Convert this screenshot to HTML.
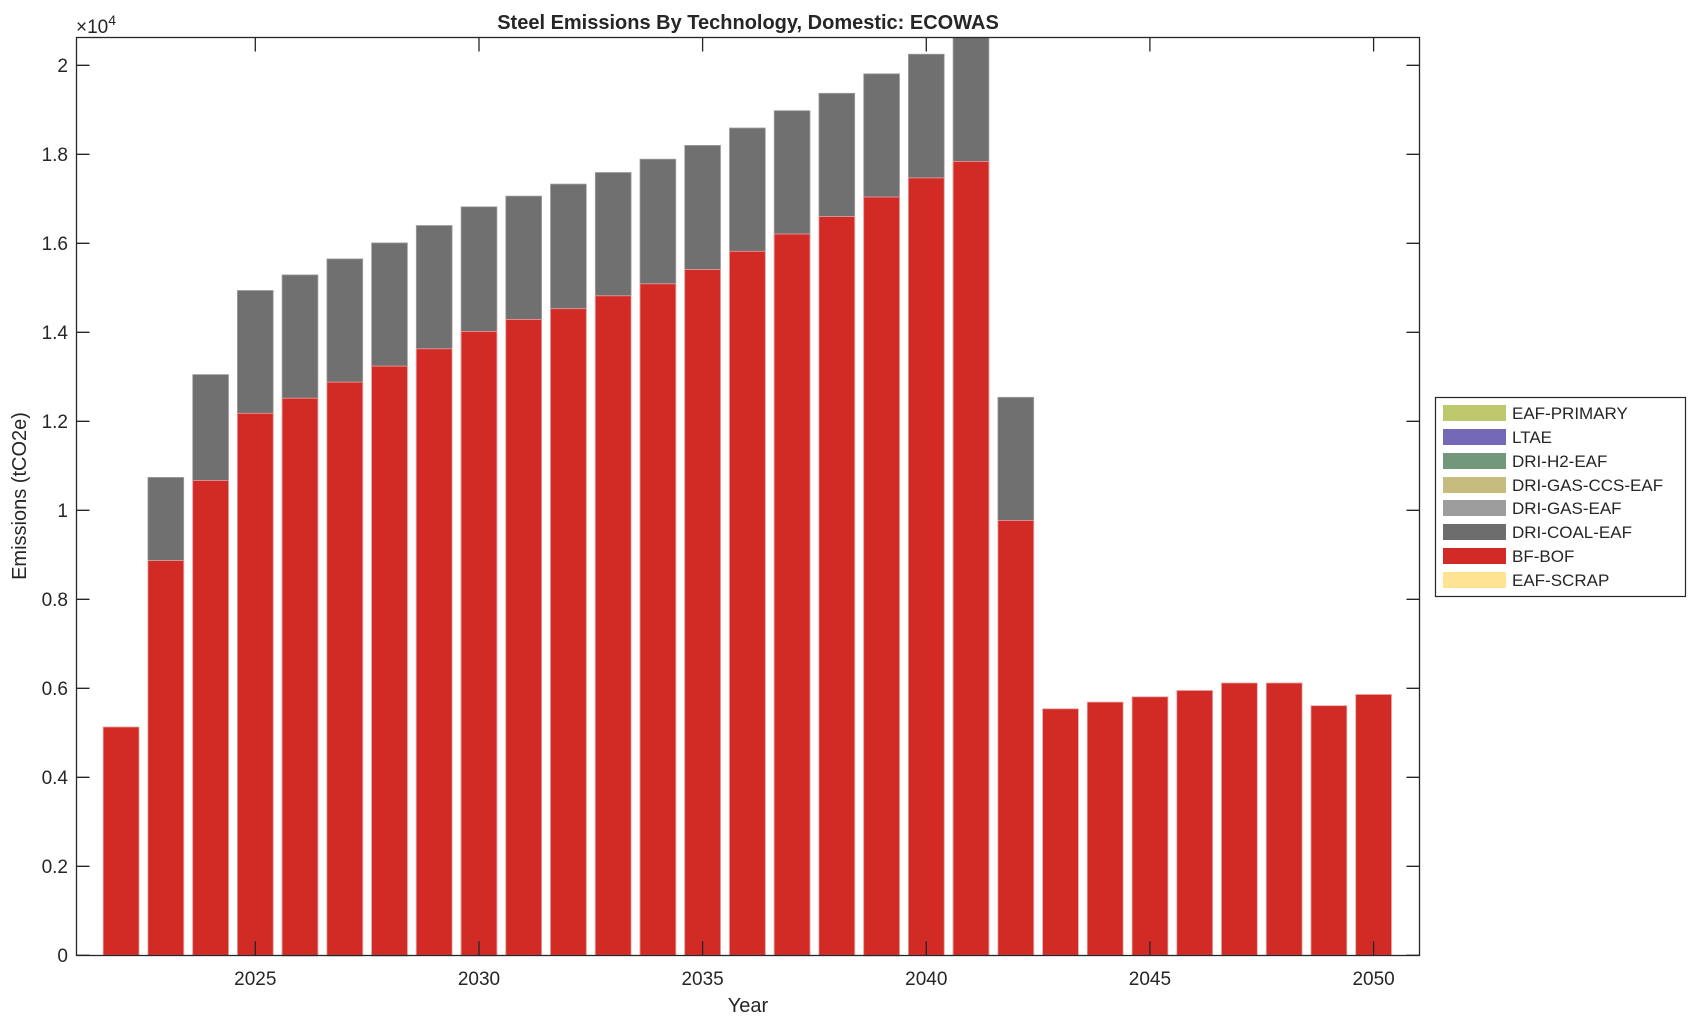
<!DOCTYPE html>
<html><head><style>body{margin:0;background:#fff}svg{display:block}text{font-family:"Liberation Sans",Arial,sans-serif;fill:#262626}</style></head>
<body>
<svg width="1696" height="1023" viewBox="0 0 1696 1023" xmlns="http://www.w3.org/2000/svg">
<rect width="1696" height="1023" fill="#fff"/>
<rect x="76.5" y="37.5" width="1343" height="918" fill="#fff"/>
<g fill="#707070" stroke="#a0a0a0" stroke-width="0.8">
<rect x="147.9" y="477.4" width="35.8" height="478"/>
<rect x="192.7" y="374.6" width="35.8" height="581"/>
<rect x="237.4" y="290.5" width="35.8" height="665"/>
<rect x="282.1" y="274.9" width="35.8" height="681"/>
<rect x="326.9" y="258.9" width="35.8" height="697"/>
<rect x="371.6" y="242.9" width="35.8" height="713"/>
<rect x="416.3" y="225.5" width="35.8" height="730"/>
<rect x="461.1" y="206.8" width="35.8" height="749"/>
<rect x="505.8" y="196.1" width="35.8" height="759"/>
<rect x="550.5" y="184.1" width="35.8" height="771"/>
<rect x="595.3" y="172.5" width="35.8" height="783"/>
<rect x="640.0" y="159.2" width="35.8" height="796"/>
<rect x="684.7" y="145.4" width="35.8" height="810"/>
<rect x="729.5" y="128.0" width="35.8" height="827"/>
<rect x="774.2" y="110.7" width="35.8" height="845"/>
<rect x="818.9" y="93.3" width="35.8" height="862"/>
<rect x="863.7" y="73.8" width="35.8" height="882"/>
<rect x="908.4" y="54.2" width="35.8" height="901"/>
<rect x="953.1" y="37.5" width="35.8" height="918"/>
<rect x="997.9" y="397.3" width="35.8" height="558"/>
</g>
<g fill="#d22b26" stroke="#e8a0a0" stroke-width="0.8">
<rect x="103.2" y="727.0" width="35.8" height="228.3"/>
<rect x="147.9" y="560.6" width="35.8" height="394.7"/>
<rect x="192.7" y="480.5" width="35.8" height="474.8"/>
<rect x="237.4" y="413.3" width="35.8" height="542"/>
<rect x="282.1" y="398.2" width="35.8" height="557.1"/>
<rect x="326.9" y="382.1" width="35.8" height="573.2"/>
<rect x="371.6" y="366.1" width="35.8" height="589.2"/>
<rect x="416.3" y="348.8" width="35.8" height="606.5"/>
<rect x="461.1" y="331.4" width="35.8" height="623.9"/>
<rect x="505.8" y="319.4" width="35.8" height="635.9"/>
<rect x="550.5" y="308.7" width="35.8" height="646.6"/>
<rect x="595.3" y="295.8" width="35.8" height="659.5"/>
<rect x="640.0" y="283.8" width="35.8" height="671.5"/>
<rect x="684.7" y="269.6" width="35.8" height="685.7"/>
<rect x="729.5" y="251.3" width="35.8" height="704"/>
<rect x="774.2" y="234.0" width="35.8" height="721.3"/>
<rect x="818.9" y="216.6" width="35.8" height="738.7"/>
<rect x="863.7" y="197.0" width="35.8" height="758.3"/>
<rect x="908.4" y="177.9" width="35.8" height="777.4"/>
<rect x="953.1" y="161.4" width="35.8" height="793.9"/>
<rect x="997.9" y="520.5" width="35.8" height="434.8"/>
<rect x="1042.6" y="708.8" width="35.8" height="246.5"/>
<rect x="1087.3" y="702.1" width="35.8" height="253.2"/>
<rect x="1132.1" y="696.8" width="35.8" height="258.5"/>
<rect x="1176.8" y="690.5" width="35.8" height="264.8"/>
<rect x="1221.5" y="683.0" width="35.8" height="272.3"/>
<rect x="1266.3" y="683.0" width="35.8" height="272.3"/>
<rect x="1311.0" y="705.7" width="35.8" height="249.6"/>
<rect x="1355.7" y="694.5" width="35.8" height="260.8"/>
</g>
<g stroke="#262626" stroke-width="1.3" fill="none">
<rect x="76.5" y="37.5" width="1343" height="918"/>
<path d="M76.5 955.3h13M76.5 866.3h13M76.5 777.3h13M76.5 688.3h13M76.5 599.3h13M76.5 510.3h13M76.5 421.3h13M76.5 332.3h13M76.5 243.3h13M76.5 154.3h13M76.5 65.3h13"/>
<path d="M1419.5 955.3h-13M1419.5 866.3h-13M1419.5 777.3h-13M1419.5 688.3h-13M1419.5 599.3h-13M1419.5 510.3h-13M1419.5 421.3h-13M1419.5 332.3h-13M1419.5 243.3h-13M1419.5 154.3h-13M1419.5 65.3h-13"/>
<path d="M255.3 955.3v-14M479 955.3v-14M702.6 955.3v-14M926.3 955.3v-14M1149.9 955.3v-14M1373.6 955.3v-14"/>
<path d="M255.3 37.5v14M479 37.5v14M702.6 37.5v14M926.3 37.5v14M1149.9 37.5v14M1373.6 37.5v14"/>
</g>
<g font-size="19" text-anchor="end">
<text x="68" y="962">0</text><text x="68" y="873">0.2</text><text x="68" y="784">0.4</text><text x="68" y="695">0.6</text><text x="68" y="606">0.8</text><text x="68" y="517">1</text><text x="68" y="428">1.2</text><text x="68" y="339">1.4</text><text x="68" y="250">1.6</text><text x="68" y="161">1.8</text><text x="68" y="72">2</text>
</g>
<g font-size="19" text-anchor="middle">
<text x="255.3" y="985">2025</text><text x="479" y="985">2030</text><text x="702.6" y="985">2035</text><text x="926.3" y="985">2040</text><text x="1149.9" y="985">2045</text><text x="1373.6" y="985">2050</text>
<text x="748" y="1012" font-size="20">Year</text>
<text x="748" y="29" font-size="20" font-weight="bold" fill="#000">Steel Emissions By Technology, Domestic: ECOWAS</text>
</g>
<text x="76" y="33" font-size="19">×10<tspan font-size="14" dy="-8">4</tspan></text>
<text transform="translate(26,496) rotate(-90)" font-size="20" text-anchor="middle">Emissions (tCO2e)</text>
<rect x="1435.5" y="397.5" width="250" height="199" fill="#fff" stroke="#262626" stroke-width="1.2"/>
<g>
<rect x="1443" y="405" width="63" height="16" fill="#bdc86c"/>
<rect x="1443" y="429" width="63" height="16" fill="#7369b7"/>
<rect x="1443" y="453" width="63" height="16" fill="#72977a"/>
<rect x="1443" y="477" width="63" height="16" fill="#c5bc7e"/>
<rect x="1443" y="500" width="63" height="16" fill="#9d9d9d"/>
<rect x="1443" y="524" width="63" height="16" fill="#6d6d6d"/>
<rect x="1443" y="548" width="63" height="16" fill="#d22b26"/>
<rect x="1443" y="572" width="63" height="16" fill="#fee393"/>
</g>
<g font-size="17" fill="#000">
<text x="1512" y="419">EAF-PRIMARY</text>
<text x="1512" y="443">LTAE</text>
<text x="1512" y="467">DRI-H2-EAF</text>
<text x="1512" y="491">DRI-GAS-CCS-EAF</text>
<text x="1512" y="514">DRI-GAS-EAF</text>
<text x="1512" y="538">DRI-COAL-EAF</text>
<text x="1512" y="562">BF-BOF</text>
<text x="1512" y="586">EAF-SCRAP</text>
</g>
</svg>
</body></html>
